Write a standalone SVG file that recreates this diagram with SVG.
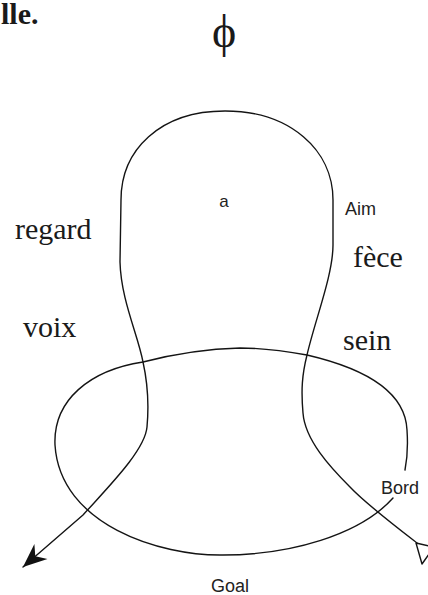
<svg xmlns="http://www.w3.org/2000/svg" width="428" height="595" viewBox="0 0 428 595">
<style>
.serif{font-family:"Liberation Serif","Times New Roman",serif;fill:#1a1a1a}
.sans{font-family:"Liberation Sans",Arial,sans-serif;fill:#222}
.ln{fill:none;stroke:#141414;stroke-width:1.4;stroke-linecap:round;stroke-linejoin:round}
</style>
<defs>
<marker id="ah" markerUnits="userSpaceOnUse" markerWidth="30" markerHeight="30" refX="0" refY="0" viewBox="-22 -11 24 22" orient="auto">
<path d="M0,0 L-19,-8 L-13,0 L-19,8 Z" fill="#111"/>
</marker>
</defs>
<rect width="428" height="595" fill="#fff"/>
<g id="title"><text class="serif" x="1" y="24" font-size="30" font-weight="bold">lle.</text></g>
<g id="phi"><text class="serif" x="224" y="47" font-size="46" text-anchor="middle">ϕ</text></g>
<g id="connectors">
<path id="bulb" class="ln" d="M417,543 C395,526 365,503 350,487 C330,467 305,440 303,413 C301,390 302,375 307,355 C315,320 333,275 333,245 L333,200 C333,150 290,111 225,111 C160,111 121,150 121,200 L120,262 C121,300 138,335 143,362 C147,380 149,405 147,427 C145,450 110,485 83,515 L23,567" marker-end="url(#ah)"/>
<path id="bord" class="ln" d="M393,498 C360,535 290,555 223,555 C160,556 60,525 55,445 C53,400 90,370 143,362 C170,355 200,349 240,348 C265,348 285,351 307,355 C350,365 405,385 407,430 C408,445 407,460 405,470"/>
<path id="openhead" class="ln" fill="#fff" d="M416,543 L434,547 L422,564 Z"/>
</g>
<g id="labels">
<text class="sans" x="224" y="207" font-size="17" text-anchor="middle" fill="#444">a</text>
<text class="sans" x="345" y="215" font-size="18">Aim</text>
<text class="serif" x="15" y="239" font-size="30">regard</text>
<text class="serif" x="23" y="337" font-size="30">voix</text>
<text class="serif" x="353" y="267" font-size="30">fèce</text>
<text class="serif" x="343" y="350" font-size="30">sein</text>
<text class="sans" x="381" y="494" font-size="18">Bord</text>
<text class="sans" x="211" y="592" font-size="18">Goal</text>
</g>
</svg>
